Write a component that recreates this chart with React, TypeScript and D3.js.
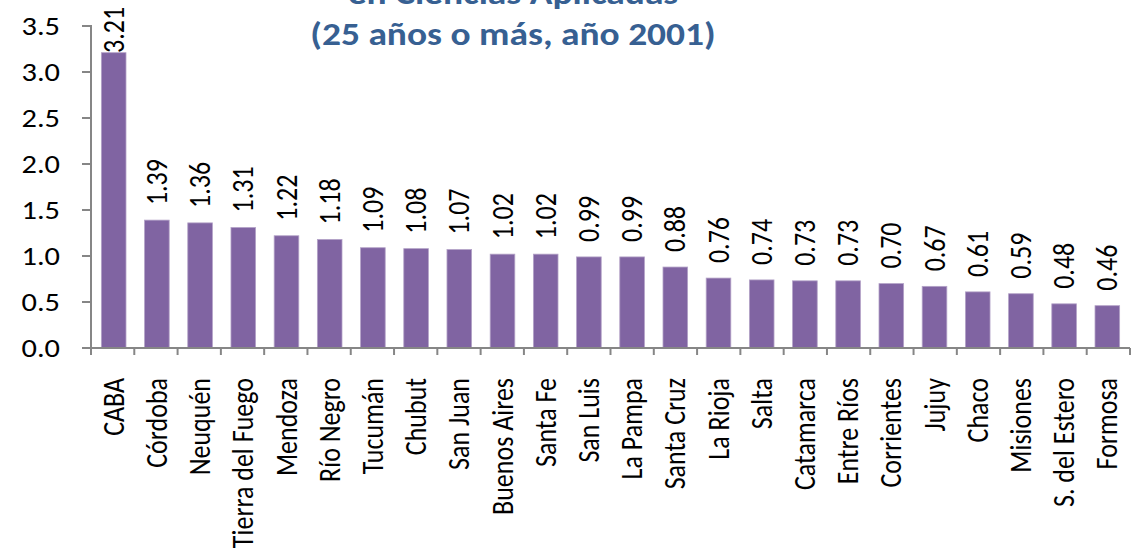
import React, { useRef, useEffect } from 'react';
import * as d3 from 'd3';

// ==================== DATA ====================
const provincias = [
    'CABA', 'Córdoba', 'Neuquén', 'Tierra del Fuego', 'Mendoza', 'Río Negro', 'Tucumán', 'Chubut',
    'San Juan', 'Buenos Aires', 'Santa Fe', 'San Luis', 'La Pampa', 'Santa Cruz', 'La Rioja', 'Salta',
    'Catamarca', 'Entre Ríos', 'Corrientes', 'Jujuy', 'Chaco', 'Misiones', 'S. del Estero', 'Formosa'
];
const valores = [
    3.21, 1.39, 1.36, 1.31, 1.22, 1.18, 1.09, 1.08,
    1.07, 1.02, 1.02, 0.99, 0.99, 0.88, 0.76, 0.74,
    0.73, 0.73, 0.70, 0.67, 0.61, 0.59, 0.48, 0.46
];
const yTicks = [0, 0.5, 1, 1.5, 2, 2.5, 3, 3.5];
const tituloLineas = ['en Ciencias Aplicadas', '(25 años o más, año 2001)'];

// ==================== CONFIG ====================
const W = 1138;
const H = 553;
const FONT = "Carlito, 'Liberation Sans Narrow', 'DejaVu Sans Condensed', sans-serif";
const SX = 1.17; // the original picture is a bit stretched horizontally
const COLORS = {
    bar: '#8064A2',
    barEdge: '#B3A2C7',
    axis: '#868686',
    text: '#000000',
    title: '#376092'
};
const M = { left: 91, right: 1130, top: 26, bottom: 348 };

const App = () => {
    const svgRef = useRef<SVGSVGElement | null>(null);

    useEffect(() => {
        const svg = d3.select(svgRef.current);
        svg.selectAll('*').remove();

        const x = d3.scaleBand<string>()
            .domain(provincias)
            .range([M.left, M.right])
            .paddingInner(0.43)
            .paddingOuter(0.24);

        const y = d3.scaleLinear().domain([0, 3.5]).range([M.bottom, M.top]);

        const g = svg.append('g');

        // bars
        g.selectAll('.bar')
            .data(valores)
            .enter()
            .append('rect')
            .attr('class', 'bar')
            .attr('x', (_, i) => x(provincias[i]) as number)
            .attr('y', d => y(d))
            .attr('width', x.bandwidth())
            .attr('height', d => y(0) - y(d))
            .attr('fill', COLORS.bar)
            .attr('stroke', COLORS.barEdge)
            .attr('stroke-width', 0.8);

        // y axis
        g.append('path')
            .attr('d', `M${M.left - 9},${y(3.5)}H${M.left}V${y(0)}`)
            .attr('fill', 'none')
            .attr('stroke', COLORS.axis)
            .attr('stroke-width', 2);
        g.selectAll('.ytick')
            .data(yTicks)
            .enter()
            .append('line')
            .attr('x1', M.left - 9).attr('x2', M.left)
            .attr('y1', d => y(d)).attr('y2', d => y(d))
            .attr('stroke', COLORS.axis).attr('stroke-width', 2);
        g.selectAll('.ylab')
            .data(yTicks)
            .enter()
            .append('text')
            .attr('transform', d => `translate(${M.left - 31},${y(d)}) scale(${SX},1)`)
            .attr('dy', '0.33em')
            .attr('text-anchor', 'end')
            .attr('font-family', FONT)
            .attr('font-size', 26)
            .attr('fill', COLORS.text)
            .text(d => d3.format('.1f')(d));

        // x axis line and ticks on category boundaries
        g.append('line')
            .attr('x1', M.left).attr('x2', M.right)
            .attr('y1', y(0)).attr('y2', y(0))
            .attr('stroke', COLORS.axis).attr('stroke-width', 2);
        const step = x.step();
        const x0 = M.left;
        const bounds = d3.range(provincias.length + 1).map(i => x0 + i * (M.right - M.left) / provincias.length);
        g.selectAll('.xtick')
            .data(bounds)
            .enter()
            .append('line')
            .attr('x1', d => d).attr('x2', d => d)
            .attr('y1', y(0)).attr('y2', y(0) + 7)
            .attr('stroke', COLORS.axis).attr('stroke-width', 2);

        // category labels
        g.selectAll('.cat')
            .data(provincias)
            .enter()
            .append('text')
            .attr('transform', d => `translate(${(x(d) as number) + x.bandwidth() / 2},${y(0) + 30}) scale(${SX},1) rotate(-90)`)
            .attr('dy', '0.33em')
            .attr('text-anchor', 'end')
            .attr('font-family', FONT)
            .attr('font-size', 26)
            .attr('fill', COLORS.text)
            .text(d => d);

        // value labels
        g.selectAll('.val')
            .data(valores)
            .enter()
            .append('text')
            .attr('transform', (d, i) => {
                const cx = (x(provincias[i]) as number) + x.bandwidth() / 2;
                const base = Math.max(y(d) - 15, 53);
                return `translate(${cx},${base}) scale(${SX},1) rotate(-90)`;
            })
            .attr('dy', '0.33em')
            .attr('text-anchor', 'start')
            .attr('font-family', FONT)
            .attr('font-size', 26)
            .attr('fill', COLORS.text)
            .text(d => d3.format('.2f')(d));

        // title (top line is cut off by the frame)
        const tg = svg.append('g').attr('transform', `translate(513,0) scale(${SX},1)`);
        tg.selectAll('text')
            .data(tituloLineas)
            .enter()
            .append('text')
            .attr('x', 0)
            .attr('y', (_, i) => 4 + i * 41)
            .attr('text-anchor', 'middle')
            .attr('font-family', FONT)
            .attr('font-weight', 'bold')
            .attr('font-size', 32)
            .attr('fill', COLORS.title)
            .text(d => d);
        void step;
    }, []);

    return (
        <svg
            ref={svgRef}
            width={W}
            height={H}
            style={{ position: 'absolute', left: 0, top: 0, background: '#fff' }}
        />
    );
};

export default App;
